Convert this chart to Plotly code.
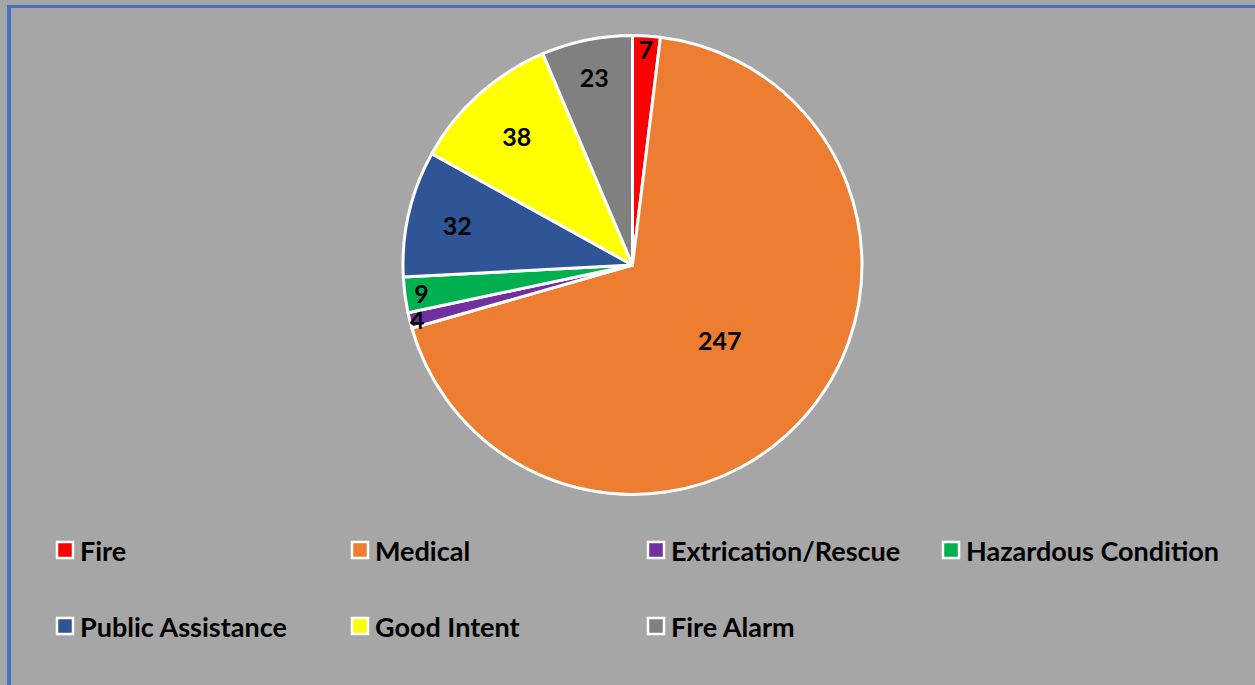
import plotly.graph_objects as go

categories = ["Fire", "Medical", "Extrication/Rescue", "Hazardous Condition",
              "Public Assistance", "Good Intent", "Fire Alarm"]
values = [7, 247, 4, 9, 32, 38, 23]
colors = ["#FF0000", "#ED7D31", "#7030A0", "#00B050", "#2F5597", "#FFFF00", "#808080"]

W, H = 1255, 685
BG = "#A6A6A6"
FONT = "Lato"

fig = go.Figure()
fig.add_trace(go.Pie(
    labels=categories, values=values, sort=False, direction="clockwise",
    rotation=0,
    marker=dict(colors=colors, line=dict(color="white", width=3)),
    textinfo="value", textposition="inside", insidetextorientation="horizontal",
    textfont=dict(family=FONT, size=25, color="black", weight="bold"),
    domain=dict(x=[(632.5 - 229.5) / W, (632.5 + 229.5) / W],
                y=[1 - 494.5 / H, 1 - 35.5 / H]),
    showlegend=False,
))

# legend drawn from the category lists
col_x = [57, 352, 648, 943]
row_y = [550, 626]
shapes = []
annotations = []
for i, (cat, col) in enumerate(zip(categories, colors)):
    r, c = divmod(i, 4)
    x0 = col_x[c]
    yc = row_y[r]
    shapes.append(dict(type="rect", xref="paper", yref="paper",
                       x0=x0 / W, x1=(x0 + 16) / W,
                       y0=1 - (yc + 8) / H, y1=1 - (yc - 8) / H,
                       fillcolor=col, line=dict(color="white", width=2.5)))
    annotations.append(dict(xref="paper", yref="paper", x=(x0 + 21) / W, y=1 - yc / H,
                            xanchor="left", yanchor="middle", showarrow=False,
                            text="<b>%s</b>" % cat,
                            font=dict(family=FONT, size=27, color="black")))

# chart border (left and top visible), as filled strips
BORDER = "#4472C4"
shapes.append(dict(type="rect", xref="paper", yref="paper", x0=7 / W, x1=11 / W,
                   y0=0, y1=1 - 5 / H, fillcolor=BORDER, line=dict(width=0)))
shapes.append(dict(type="rect", xref="paper", yref="paper", x0=7 / W, x1=1,
                   y0=1 - 8 / H, y1=1 - 5 / H, fillcolor=BORDER, line=dict(width=0)))

fig.update_layout(
    width=W, height=H, paper_bgcolor=BG, plot_bgcolor=BG,
    margin=dict(l=0, r=0, t=0, b=0),
    shapes=shapes, annotations=annotations,
    uniformtext=dict(minsize=25, mode="show"),
)
fig.write_html("out.html", config={"displayModeBar": False},
               post_script="document.body.style.margin='0';document.body.style.background='%s';" % BG)
